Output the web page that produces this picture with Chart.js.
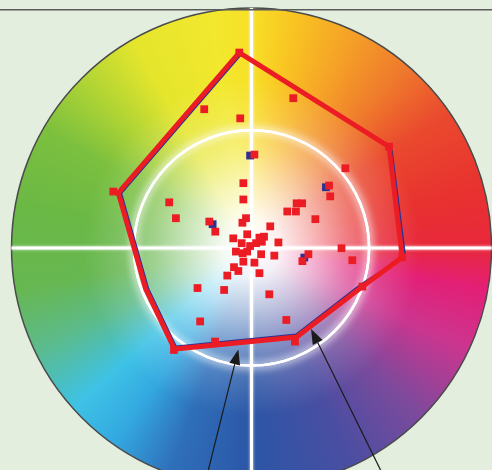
<!DOCTYPE html>
<html>
<head>
<meta charset="utf-8">
<script src="https://cdn.jsdelivr.net/npm/chart.js@4/dist/chart.umd.min.js"></script>
<style>
  html, body { margin: 0; padding: 0; background: #e3eedf; }
  canvas { display: block; }
</style>
</head>
<body>
<canvas id="wheel" width="492" height="470"></canvas>
<script>
// chroma plane, outer rim of the hue wheel = 100
const wheelRadius = 100;
const innerRing = 49;
const topRule = 99.2;

// red gamut outline (closed)
const gamutRedX = [-5.1, 57.3, 62.8, 46.2, 18.8, -32.1, -44.1, -55.5, -5.1];
const gamutRedY = [81.4, 42.2, -3.9, -16.1, -37.1, -42.1, -17.0, 23.0, 81.4];

// blue gamut outline (closed), nearly on top of the red one
const gamutBlueX = [-4.3, 58.3, 64.0, 45.5, 18.7, -31.5, -43.0, -54.3, -4.3];
const gamutBlueY = [80.7, 41.7, -3.5, -15.3, -36.0, -41.0, -17.0, 22.8, 80.7];

// red samples
const redX = [-5.1, 57.3, 62.8, 46.2, 18.1, -15.2, -32.3, -57.6,
  -19.7, -4.7, 17.4, 1.2, 39.1, 32.3, 32.8, -3.4, -3.4, -34.3, 18.8, 21.1,
  14.9, 18.5, 26.6, 7.8, -31.5, -17.6, -15.1, -2.3, -3.8, -1.8, -7.6, -4.1,
  3.3, 5.2, 4.3, 1.9, -0.6, 11.2, -6.5, -3.7, -1.8, 4.0, 9.5, -3.4, 1.2,
  -7.3, -5.5, -10.1, 3.3, -22.5, -11.4, 7.4, -21.4, 14.5, 37.5, 23.7, 21.2, 42.0];
const redY = [81.4, 42.2, -3.9, -16.1, -39.0, -39.0, -42.5, 23.5,
  57.8, 54.0, 62.4, 38.9, 33.2, 26.0, 21.5, 27.0, 20.2, 19.0, 18.6, 18.6,
  15.2, 15.2, 12.0, 9.0, 12.4, 11.0, 6.8, 12.4, 10.5, 5.7, 4.0, 2.0,
  4.3, 4.7, 2.6, 2.0, 0.8, 2.3, -1.5, -2.2, -1.5, -2.6, -3.2, -5.7, -6.1,
  -8.0, -9.6, -11.5, -10.5, -16.7, -17.5, -19.3, -30.6, -30.0, -0.1, -2.6, -5.5, -5.1];

// blue samples
const blueX = [-0.6, 31.0, -16.2, 22.0];
const blueY = [38.5, 25.3, 9.9, -4.0];

// arrows: tail -> tip
const arrowTailX = [-18.5, 54.8];
const arrowTailY = [-94.6, -94.6];
const arrowTipX = [-5.5, 24.8];
const arrowTipY = [-42.3, -33.8];

// hue stops, angle in degrees counterclockwise from +a
const hueAngles = [0, 15, 35, 50, 65, 80, 90, 100, 120, 135, 150, 170, 190, 205, 222, 235, 250, 270, 295, 315, 335, 350];
const hueColors = ['#e8283c', '#e8322f', '#ea4a2e', '#ef7a2c', '#f5a127', '#f9c622', '#f7e027', '#f2e82e',
  '#e4e52c', '#b0d434', '#7cc03e', '#6ab845', '#67b752', '#5cbb8a', '#3ec2e6', '#33a8e0', '#2f6fba',
  '#2b56a6', '#4a4ea2', '#7c4a9c', '#cc358f', '#e31f76'];

const toPoints = (xs, ys) => xs.map((x, i) => ({ x: x, y: ys[i] }));

const wheelPlugin = {
    id: 'wheel',
    beforeDraw(chart) {
        const ctx = chart.ctx;
        ctx.save();
        ctx.fillStyle = '#e3eedf';
        ctx.fillRect(0, 0, chart.width, chart.height);
        ctx.restore();
    },
    beforeDatasetsDraw(chart) {
        const ctx = chart.ctx;
        const xs = chart.scales.x, ys = chart.scales.y;
        const cx = xs.getPixelForValue(0), cy = ys.getPixelForValue(0);
        const R = xs.getPixelForValue(wheelRadius) - cx;
        const r = xs.getPixelForValue(innerRing) - cx;

        ctx.save();
        // hue ring
        const conic = ctx.createConicGradient(0, cx, cy);
        hueAngles.forEach((a, i) => {
            conic.addColorStop(a === 0 ? 1 : (360 - a) / 360, hueColors[i]);
        });
        conic.addColorStop(0, hueColors[0]);
        ctx.beginPath();
        ctx.arc(cx, cy, R, 0, Math.PI * 2);
        ctx.fillStyle = conic;
        ctx.fill();

        // white toward the centre
        const rad = ctx.createRadialGradient(cx, cy, 0, cx, cy, R);
        rad.addColorStop(0, 'rgba(255,255,255,1)');
        rad.addColorStop(0.12, 'rgba(255,255,255,0.92)');
        rad.addColorStop(0.25, 'rgba(255,255,255,0.68)');
        rad.addColorStop(0.4, 'rgba(255,255,255,0.38)');
        rad.addColorStop(0.55, 'rgba(255,255,255,0.14)');
        rad.addColorStop(0.7, 'rgba(255,255,255,0)');
        ctx.fillStyle = rad;
        ctx.fill();

        ctx.lineWidth = 1.5;
        ctx.strokeStyle = '#4a4a4a';
        ctx.stroke();

        // crosshair and inner ring
        ctx.strokeStyle = '#ffffff';
        ctx.shadowColor = 'rgba(255,255,255,0.9)';
        ctx.shadowBlur = 3;
        ctx.lineWidth = 3;
        ctx.beginPath();
        ctx.moveTo(cx - R, cy);
        ctx.lineTo(cx + R, cy);
        ctx.moveTo(cx, cy - R);
        ctx.lineTo(cx, cy + R);
        ctx.stroke();

        ctx.shadowColor = 'rgba(255,255,255,1)';
        ctx.shadowBlur = 9;
        ctx.lineWidth = 2.5;
        ctx.beginPath();
        ctx.arc(cx, cy, r, 0, Math.PI * 2);
        ctx.stroke();
        ctx.stroke();
        ctx.shadowBlur = 0;

        // rule across the top
        const ty = ys.getPixelForValue(topRule);
        ctx.strokeStyle = '#5a5a5a';
        ctx.lineWidth = 1.5;
        ctx.beginPath();
        ctx.moveTo(0, ty);
        ctx.lineTo(chart.width, ty);
        ctx.stroke();
        ctx.restore();
    },
    afterDatasetsDraw(chart) {
        const ctx = chart.ctx;
        const xs = chart.scales.x, ys = chart.scales.y;
        ctx.save();
        ctx.strokeStyle = '#1a1a1a';
        ctx.fillStyle = '#1a1a1a';
        ctx.lineWidth = 1.2;
        arrowTipX.forEach((tx, i) => {
            const x1 = xs.getPixelForValue(arrowTailX[i]), y1 = ys.getPixelForValue(arrowTailY[i]);
            const x2 = xs.getPixelForValue(tx), y2 = ys.getPixelForValue(arrowTipY[i]);
            const ang = Math.atan2(y2 - y1, x2 - x1);
            const len = 15, half = 5.5;
            const bx = x2 - len * Math.cos(ang), by = y2 - len * Math.sin(ang);
            ctx.beginPath();
            ctx.moveTo(x1, y1);
            ctx.lineTo(bx, by);
            ctx.stroke();
            ctx.beginPath();
            ctx.moveTo(x2, y2);
            ctx.lineTo(bx + half * Math.sin(ang), by - half * Math.cos(ang));
            ctx.lineTo(bx - half * Math.sin(ang), by + half * Math.cos(ang));
            ctx.closePath();
            ctx.fill();
        });
        ctx.restore();
    }
};

new Chart(document.getElementById('wheel'), {
    type: 'scatter',
    data: {
        datasets: [
            {
                label: 'red samples',
                data: toPoints(redX, redY),
                backgroundColor: '#ec1c24',
                borderColor: '#ec1c24',
                borderWidth: 0,
                pointStyle: 'rect',
                pointRadius: 5.5,
                order: 0
            },
            {
                label: 'red gamut',
                data: toPoints(gamutRedX, gamutRedY),
                showLine: true,
                borderColor: '#ec1c24',
                borderWidth: 5,
                borderJoinStyle: 'miter',
                pointRadius: 0,
                order: 1
            },
            {
                label: 'blue samples',
                data: toPoints(blueX, blueY),
                backgroundColor: '#2e3192',
                borderColor: '#2e3192',
                borderWidth: 0,
                pointStyle: 'rect',
                pointRadius: 5.5,
                order: 2
            },
            {
                label: 'blue gamut',
                data: toPoints(gamutBlueX, gamutBlueY),
                showLine: true,
                borderColor: '#2e3192',
                borderWidth: 2,
                pointRadius: 0,
                order: 3
            }
        ]
    },
    options: {
        responsive: false,
        animation: false,
        layout: { padding: 0, autoPadding: false },
        plugins: {
            legend: { display: false },
            tooltip: { enabled: false }
        },
        scales: {
            x: { type: 'linear', display: false, min: -104.8, max: 100.2 },
            y: { type: 'linear', display: false, min: -92.5, max: 103.3 }
        }
    },
    plugins: [wheelPlugin]
});
</script>
</body>
</html>
